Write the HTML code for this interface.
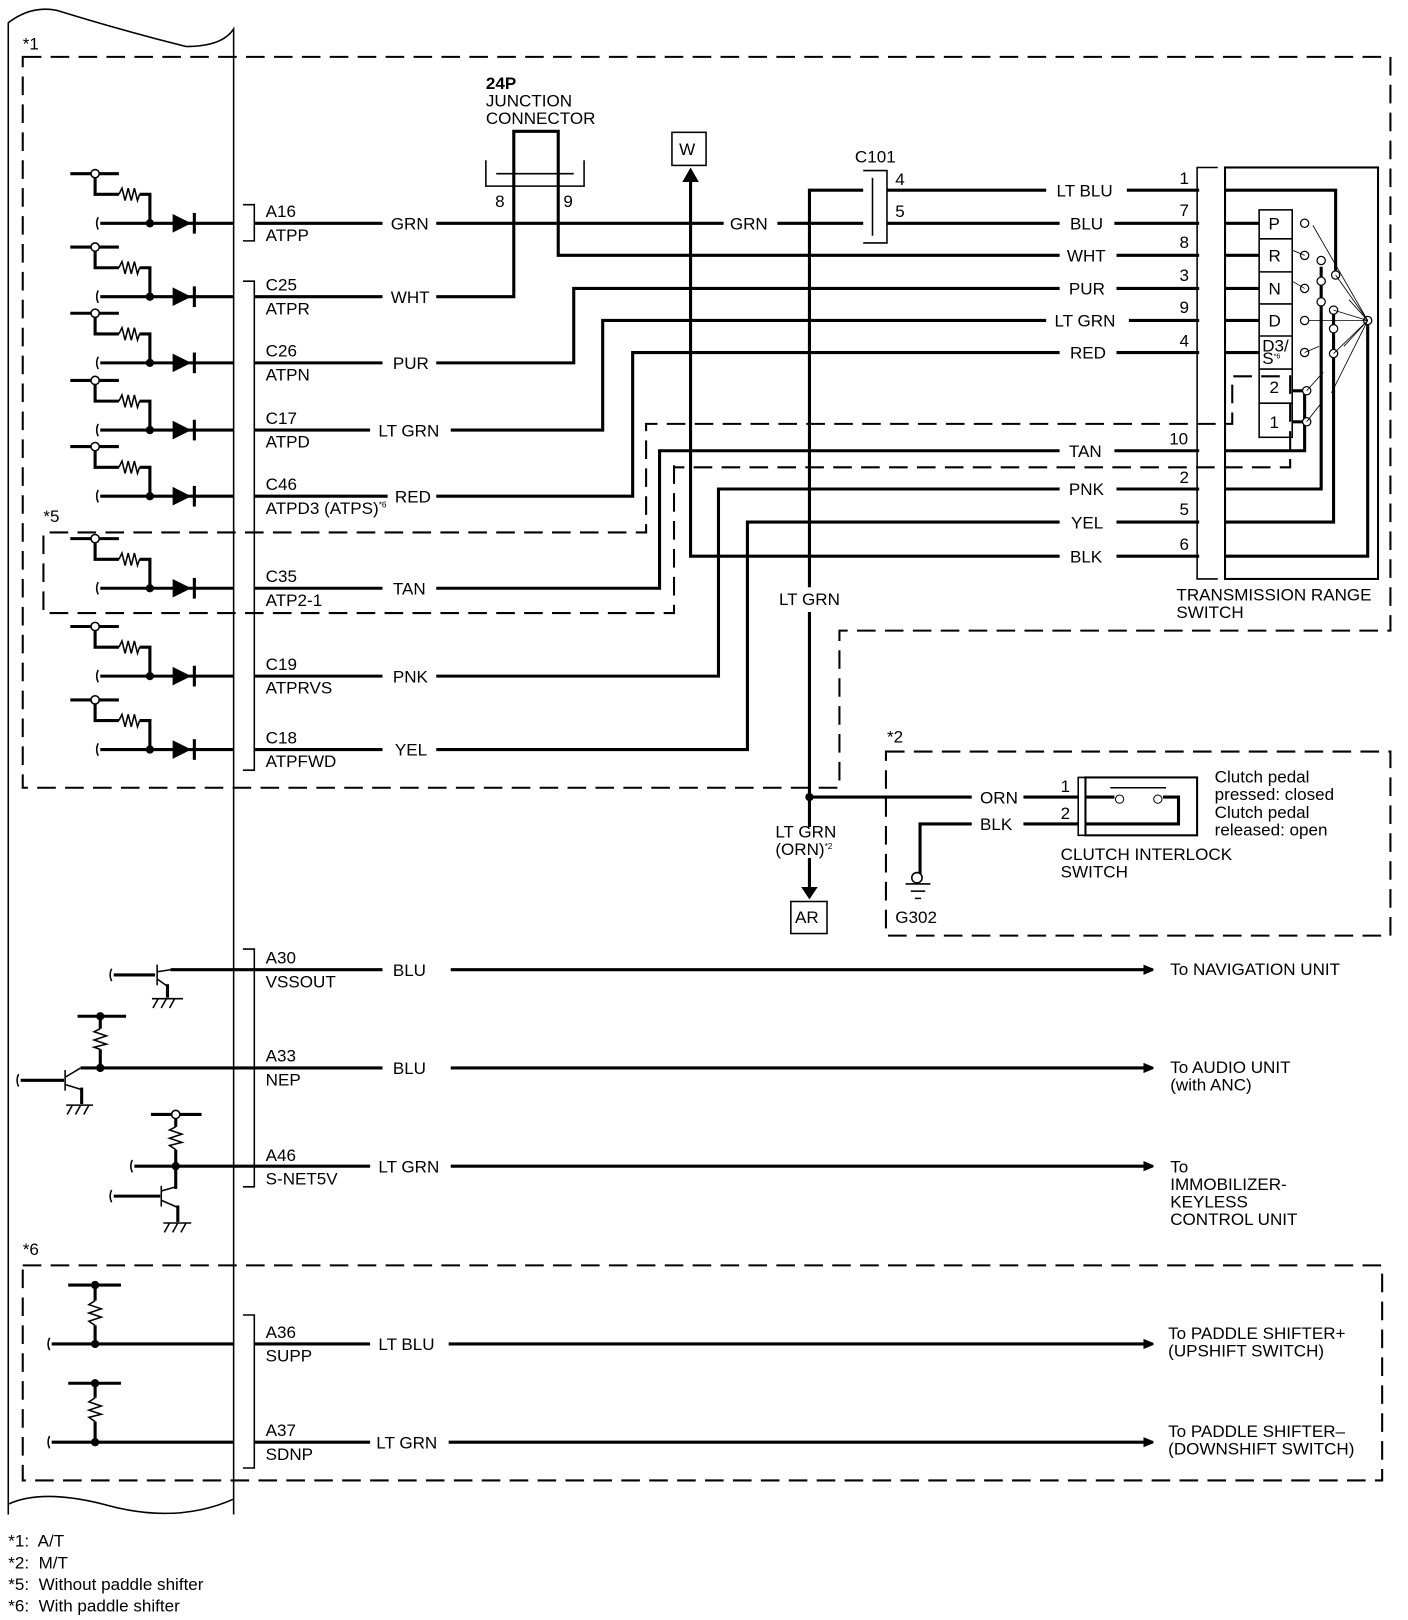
<!DOCTYPE html>
<html><head><meta charset="utf-8"><style>
html,body{margin:0;padding:0;background:#fff}
svg{display:block}
text{font-family:"Liberation Sans",Arial,sans-serif;font-size:16.5px;fill:#000}
.w{stroke:#000;stroke-width:3;fill:none}
.t{stroke:#000;stroke-width:1.5;fill:none}
.d{stroke:#000;stroke-width:2;fill:none;stroke-dasharray:18,9}
</style></head><body>
<svg width="1408" height="1620" viewBox="0 0 1362 1567" preserveAspectRatio="none" xmlns="http://www.w3.org/2000/svg">
<defs>
<g id="sens">
<line class="w" x1="68" y1="-48" x2="115" y2="-48"/>
<circle cx="92" cy="-48" r="4" fill="#fff" stroke="#000" stroke-width="1.5"/>
<polyline class="w" points="92,-44 92,-28 115,-28"/>
<polyline class="t" points="115,-28 118,-34 121,-22 124,-34 127,-22 130,-34 133,-22 135,-28"/>
<polyline class="w" points="135,-28 145,-28 145,0"/>
<path class="t" d="M95,-6 q-3,6 0,12"/>
<line class="w" x1="97" y1="0" x2="226" y2="0"/>
<circle cx="145" cy="0" r="4"/>
<polygon points="167,-9 185,0 167,9"/>
<line class="w" x1="188" y1="-10" x2="188" y2="10"/>
</g>
<marker id="ar" markerWidth="10" markerHeight="10" refX="9" refY="5" orient="auto" markerUnits="userSpaceOnUse"><polygon points="0,0 12,5 0,10"/></marker>
</defs>

<path class="t" d="M8,1465 L8,22 Q30,5 55,10 Q120,30 180,45 Q215,45 226,28 L226,1465"/>
<path class="t" d="M8,1455 Q40,1440 100,1455 Q170,1475 226,1450"/>

<text x="22" y="48">*1</text>
<path class="d" d="M22,55 H1345 V610 H812 V762 H22 Z"/>

<use href="#sens" y="216"/><use href="#sens" y="287"/><use href="#sens" y="351"/>
<use href="#sens" y="416"/><use href="#sens" y="480"/><use href="#sens" y="569"/>
<use href="#sens" y="654"/><use href="#sens" y="725"/>

<text x="42" y="505">*5</text>
<path class="d" d="M652,450 V593 H42 V515 H625 V410 H1192 V364 H1248 V452 H652"/>

<polyline class="t" points="235,198 246,198 246,233 235,233"/>
<polyline class="t" points="235,272 246,272 246,745 235,745"/>
<polyline class="t" points="235,918 246,918 246,1148 235,1148"/>
<polyline class="t" points="235,1272 246,1272 246,1420 235,1420"/>

<g>
<text x="257" y="210">A16</text><text x="257" y="233">ATPP</text>
<text x="257" y="281">C25</text><text x="257" y="304">ATPR</text>
<text x="257" y="345">C26</text><text x="257" y="368">ATPN</text>
<text x="257" y="410">C17</text><text x="257" y="433">ATPD</text>
<text x="257" y="474">C46</text><text x="257" y="497">ATPD3 (ATPS)<tspan font-size="8" dy="-6">*6</tspan></text>
<text x="257" y="563">C35</text><text x="257" y="586">ATP2-1</text>
<text x="257" y="648">C19</text><text x="257" y="671">ATPRVS</text>
<text x="257" y="719">C18</text><text x="257" y="742">ATPFWD</text>
<text x="257" y="932">A30</text><text x="257" y="955">VSSOUT</text>
<text x="257" y="1027">A33</text><text x="257" y="1050">NEP</text>
<text x="257" y="1123">A46</text><text x="257" y="1146">S-NET5V</text>
<text x="257" y="1294">A36</text><text x="257" y="1317">SUPP</text>
<text x="257" y="1389">A37</text><text x="257" y="1412">SDNP</text>
</g>

<g class="w">
<line x1="246" y1="216" x2="370" y2="216"/><line x1="246" y1="287" x2="370" y2="287"/>
<line x1="246" y1="351" x2="370" y2="351"/><line x1="246" y1="416" x2="358" y2="416"/>
<line x1="246" y1="480" x2="375" y2="480"/><line x1="246" y1="569" x2="370" y2="569"/>
<line x1="246" y1="654" x2="370" y2="654"/><line x1="246" y1="725" x2="370" y2="725"/>
</g>
<text x="378" y="222">GRN</text><text x="378" y="293">WHT</text><text x="380" y="357">PUR</text>
<text x="366" y="422">LT GRN</text><text x="382" y="486">RED</text><text x="380" y="575">TAN</text>
<text x="380" y="660">PNK</text><text x="382" y="731">YEL</text>

<g class="w">
<polyline points="422,216 700,216"/><polyline points="752,216 835,216"/>
<polyline points="422,287 497,287 497,127 540,127 540,247 1025,247"/>
<polyline points="422,351 555,351 555,279 1025,279"/>
<polyline points="436,416 583,416 583,310 1012,310"/>
<polyline points="422,480 612,480 612,341 1025,341"/>
<polyline points="422,569 638,569 638,436 1025,436"/>
<polyline points="422,654 695,654 695,473 1025,473"/>
<polyline points="422,725 723,725 723,505 1025,505"/>
<polyline points="1025,538 668,538 668,172"/>
<polyline points="835,184 783,184 783,568"/>
<polyline points="783,592 783,800"/>
<polyline points="783,830 783,858"/>
<polyline points="858,184 1012,184"/><polyline points="858,216 1025,216"/>
</g>
<text x="706" y="222">GRN</text>
<polyline class="t" points="470,155 470,180 565,180 565,155"/>
<line class="t" x1="480" y1="168" x2="555" y2="168"/>
<text x="470" y="86" font-weight="bold">24P</text>
<text x="470" y="103">JUNCTION</text>
<text x="470" y="120">CONNECTOR</text>
<text x="479" y="200">8</text><text x="545" y="200">9</text>
<rect class="t" x="650" y="128" width="33" height="32"/>
<text x="657" y="150">W</text>
<polygon points="660,176 668,162 676,176"/>
<polyline class="t" points="835,165 858,165 858,235 835,235"/>
<line class="t" x1="844" y1="172" x2="844" y2="228"/>
<text x="827" y="157">C101</text>
<text x="866" y="179">4</text><text x="866" y="210">5</text>
<text x="1022" y="190">LT BLU</text><text x="1035" y="222">BLU</text><text x="1032" y="253">WHT</text>
<text x="1034" y="285">PUR</text><text x="1020" y="316">LT GRN</text><text x="1035" y="347">RED</text>
<text x="1034" y="442">TAN</text><text x="1034" y="479">PNK</text><text x="1036" y="511">YEL</text>
<text x="1035" y="544">BLK</text>
<g class="w">
<line x1="1090" y1="184" x2="1160" y2="184"/><line x1="1078" y1="216" x2="1160" y2="216"/>
<line x1="1080" y1="247" x2="1160" y2="247"/><line x1="1080" y1="279" x2="1160" y2="279"/>
<line x1="1092" y1="310" x2="1160" y2="310"/><line x1="1080" y1="341" x2="1160" y2="341"/>
<line x1="1078" y1="436" x2="1160" y2="436"/><line x1="1080" y1="473" x2="1160" y2="473"/>
<line x1="1080" y1="505" x2="1160" y2="505"/><line x1="1080" y1="538" x2="1160" y2="538"/>
</g>
<text x="1141" y="178">1</text><text x="1141" y="209">7</text><text x="1141" y="240">8</text>
<text x="1141" y="272">3</text><text x="1141" y="303">9</text><text x="1141" y="335">4</text>
<text x="1131" y="430">10</text><text x="1141" y="467">2</text><text x="1141" y="498">5</text>
<text x="1141" y="532">6</text>
<text x="783" y="585" text-anchor="middle">LT GRN</text>
<polyline class="t" points="1178,162 1158,162 1158,560 1178,560"/>
<rect x="1185" y="162" width="148" height="398" fill="none" stroke="#000" stroke-width="2"/>
<rect class="t" x="1218" y="203" width="32" height="220"/>
<g class="t"><line x1="1218" y1="231" x2="1250" y2="231"/><line x1="1218" y1="263" x2="1250" y2="263"/>
<line x1="1218" y1="294" x2="1250" y2="294"/><line x1="1218" y1="325" x2="1250" y2="325"/>
<line x1="1218" y1="357" x2="1250" y2="357"/><line x1="1218" y1="390" x2="1250" y2="390"/></g>
<text x="1227" y="222">P</text><text x="1227" y="253">R</text><text x="1227" y="285">N</text>
<text x="1227" y="316">D</text><text x="1221" y="340" font-size="12">D3/</text><text x="1221" y="352" font-size="12">S<tspan font-size="7" dy="-5">*6</tspan></text>
<text x="1228" y="380">2</text><text x="1228" y="414">1</text>
<g class="w">
<line x1="1185" y1="216" x2="1218" y2="216"/><line x1="1185" y1="247" x2="1218" y2="247"/>
<line x1="1185" y1="279" x2="1218" y2="279"/><line x1="1185" y1="310" x2="1218" y2="310"/>
<line x1="1185" y1="341" x2="1218" y2="341"/>
<polyline points="1185,184 1292,184 1292,262"/>
<polyline points="1185,436 1262,436 1262,378"/>
<line x1="1250" y1="378" x2="1262" y2="378"/><line x1="1250" y1="408" x2="1262" y2="408"/>
<polyline points="1185,473 1278,473 1278,258"/>
<polyline points="1185,505 1290,505 1290,300"/>
<polyline points="1185,538 1323,538 1323,312"/>
</g>
<g fill="#fff" stroke="#000" stroke-width="1.2">
<circle cx="1262" cy="216" r="4"/><circle cx="1262" cy="247" r="4"/><circle cx="1262" cy="279" r="4"/>
<circle cx="1262" cy="310" r="4"/><circle cx="1262" cy="341" r="4"/><circle cx="1264" cy="378" r="4"/><circle cx="1264" cy="408" r="4"/>
<circle cx="1278" cy="252" r="4"/><circle cx="1278" cy="272" r="4"/><circle cx="1278" cy="292" r="4"/>
<circle cx="1292" cy="266" r="4"/><circle cx="1290" cy="300" r="4"/><circle cx="1290" cy="318" r="4"/><circle cx="1290" cy="342" r="4"/>
<circle cx="1323" cy="310" r="4"/>
</g>
<g stroke="#000" stroke-width="0.8">
<line x1="1323" y1="310" x2="1270" y2="218"/><line x1="1323" y1="310" x2="1292" y2="266"/>
<line x1="1323" y1="310" x2="1290" y2="300"/><line x1="1323" y1="310" x2="1266" y2="310"/>
<line x1="1323" y1="310" x2="1290" y2="342"/><line x1="1323" y1="310" x2="1300" y2="335"/>
<line x1="1323" y1="310" x2="1305" y2="290"/><line x1="1323" y1="310" x2="1288" y2="380"/>
<line x1="1264" y1="378" x2="1280" y2="360"/><line x1="1264" y1="408" x2="1278" y2="390"/>
<line x1="1262" y1="341" x2="1276" y2="335"/><line x1="1262" y1="279" x2="1250" y2="272"/>
<line x1="1262" y1="247" x2="1250" y2="242"/>
</g>
<text x="1138" y="581">TRANSMISSION RANGE</text>
<text x="1138" y="598">SWITCH</text>

<polygon points="775,858 791,858 783,870"/>
<rect class="t" x="765" y="872" width="35" height="31"/>
<text x="769" y="893">AR</text>
<text x="750" y="810">LT GRN</text>
<text x="750" y="827">(ORN)<tspan font-size="8" dy="-6">*2</tspan></text>

<text x="858" y="718">*2</text>
<path class="d" d="M857,727 H1345 V905 H857 Z"/>
<circle cx="783" cy="771" r="4"/>
<line class="w" x1="783" y1="771" x2="940" y2="771"/>
<line class="w" x1="990" y1="771" x2="1043" y2="771"/>
<polyline class="w" points="940,797 890,797 890,845"/>
<line class="w" x1="990" y1="797" x2="1043" y2="797"/>
<text x="948" y="777">ORN</text><text x="948" y="803">BLK</text>
<text x="1026" y="766">1</text><text x="1026" y="792">2</text>
<polyline class="t" points="1050,752 1043,752 1043,808 1050,808"/>
<rect x="1050" y="752" width="108" height="56" fill="none" stroke="#000" stroke-width="2"/>
<polyline class="w" points="1050,771 1078,771"/><polyline class="w" points="1125,771 1140,771 1140,797 1050,797"/>
<line class="t" x1="1074" y1="762" x2="1128" y2="762"/>
<circle cx="1083" cy="773" r="4" fill="#fff" stroke="#000"/><circle cx="1120" cy="773" r="4" fill="#fff" stroke="#000"/>
<text x="1175" y="757">Clutch pedal</text><text x="1175" y="774">pressed: closed</text>
<text x="1175" y="791">Clutch pedal</text><text x="1175" y="808">released: open</text>
<text x="1026" y="832">CLUTCH INTERLOCK</text><text x="1026" y="849">SWITCH</text>
<circle cx="887" cy="849" r="5" fill="#fff" stroke="#000" stroke-width="1.5"/>
<line class="t" x1="876" y1="855" x2="900" y2="855"/><line class="t" x1="881" y1="862" x2="895" y2="862"/><line class="t" x1="885" y1="869" x2="891" y2="869"/>
<text x="866" y="893">G302</text>

<g class="w">
<polyline points="110,943 150,943"/><line x1="165" y1="938" x2="246" y2="938"/>
<line x1="20" y1="1045" x2="62" y2="1045"/><line x1="78" y1="1033" x2="246" y2="1033"/>
<line x1="75" y1="983" x2="122" y2="983"/><line x1="97" y1="983" x2="97" y2="995"/><line x1="97" y1="1015" x2="97" y2="1033"/>
<line x1="146" y1="1078" x2="195" y2="1078"/><line x1="170" y1="1082" x2="170" y2="1090"/><line x1="170" y1="1112" x2="170" y2="1150"/>
<line x1="130" y1="1128" x2="246" y2="1128"/>
<line x1="110" y1="1157" x2="155" y2="1157"/>
<line x1="50" y1="1300" x2="226" y2="1300"/><line x1="66" y1="1243" x2="117" y2="1243"/><line x1="92" y1="1243" x2="92" y2="1258"/><line x1="92" y1="1282" x2="92" y2="1300"/>
<line x1="50" y1="1395" x2="226" y2="1395"/><line x1="66" y1="1338" x2="117" y2="1338"/><line x1="92" y1="1338" x2="92" y2="1352"/><line x1="92" y1="1375" x2="92" y2="1395"/>
<line x1="162" y1="952" x2="162" y2="965"/><line x1="79" y1="1052" x2="79" y2="1068"/><line x1="172" y1="1166" x2="172" y2="1182"/>
</g>
<circle cx="97" cy="983" r="4"/><circle cx="97" cy="1033" r="4"/><circle cx="170" cy="1078" r="4" fill="#fff" stroke="#000" stroke-width="1.5"/><circle cx="170" cy="1128" r="4"/>
<circle cx="92" cy="1243" r="4"/><circle cx="92" cy="1300" r="4"/><circle cx="92" cy="1338" r="4"/><circle cx="92" cy="1395" r="4"/>
<g class="t">
<line x1="152" y1="933" x2="152" y2="953"/><line x1="152" y1="940" x2="165" y2="938"/><line x1="152" y1="947" x2="162" y2="954"/>
<line x1="63" y1="1035" x2="63" y2="1055"/><line x1="63" y1="1042" x2="78" y2="1033"/><line x1="63" y1="1049" x2="79" y2="1054"/>
<line x1="156" y1="1147" x2="156" y2="1167"/><line x1="156" y1="1152" x2="170" y2="1148"/><line x1="156" y1="1161" x2="172" y2="1168"/>
<polyline points="97,995 91,998 103,1002 91,1006 103,1010 91,1013 97,1015"/>
<polyline points="170,1090 164,1093 176,1097 164,1101 176,1105 164,1108 170,1112"/>
<polyline points="92,1258 86,1262 98,1266 86,1270 98,1274 86,1278 92,1282"/>
<polyline points="92,1352 86,1356 98,1360 86,1364 98,1368 86,1371 92,1375"/>
<line x1="147" y1="966" x2="177" y2="966"/><line x1="64" y1="1069" x2="90" y2="1069"/><line x1="158" y1="1183" x2="185" y2="1183"/>
<path d="M153,966 l-5,9 M161,966 l-5,9 M169,966 l-5,9 M70,1069 l-5,9 M78,1069 l-5,9 M86,1069 l-5,9 M164,1183 l-5,9 M172,1183 l-5,9 M180,1183 l-5,9"/>
<path d="M108,937 q-3,6 0,12 M18,1039 q-3,6 0,12 M128,1122 q-3,6 0,12 M108,1151 q-3,6 0,12 M48,1294 q-3,6 0,12 M48,1389 q-3,6 0,12"/>
</g>

<g class="w">
<line x1="246" y1="938" x2="370" y2="938"/><line x1="436" y1="938" x2="1115" y2="938" marker-end="url(#ar)"/>
<line x1="246" y1="1033" x2="370" y2="1033"/><line x1="436" y1="1033" x2="1115" y2="1033" marker-end="url(#ar)"/>
<line x1="246" y1="1128" x2="358" y2="1128"/><line x1="436" y1="1128" x2="1115" y2="1128" marker-end="url(#ar)"/>
<line x1="246" y1="1300" x2="358" y2="1300"/><line x1="434" y1="1300" x2="1115" y2="1300" marker-end="url(#ar)"/>
<line x1="246" y1="1395" x2="358" y2="1395"/><line x1="434" y1="1395" x2="1115" y2="1395" marker-end="url(#ar)"/>
</g>
<text x="380" y="944">BLU</text><text x="380" y="1039">BLU</text><text x="366" y="1134">LT GRN</text>
<text x="366" y="1306">LT BLU</text><text x="364" y="1401">LT GRN</text>
<text x="1132" y="943">To NAVIGATION UNIT</text>
<text x="1132" y="1038">To AUDIO UNIT</text><text x="1132" y="1055">(with ANC)</text>
<text x="1132" y="1134">To</text><text x="1132" y="1151">IMMOBILIZER-</text><text x="1132" y="1168">KEYLESS</text><text x="1132" y="1185">CONTROL UNIT</text>
<text x="1130" y="1295">To PADDLE SHIFTER+</text><text x="1130" y="1312">(UPSHIFT SWITCH)</text>
<text x="1130" y="1390">To PADDLE SHIFTER–</text><text x="1130" y="1407">(DOWNSHIFT SWITCH)</text>

<text x="22" y="1214">*6</text>
<path class="d" d="M22,1224 H1337 V1432 H22 Z"/>

<text x="8" y="1496" font-size="20" xml:space="preserve">*1:  A/T</text>
<text x="8" y="1517" font-size="20" xml:space="preserve">*2:  M/T</text>
<text x="8" y="1538" font-size="20" xml:space="preserve">*5:  Without paddle shifter</text>
<text x="8" y="1559" font-size="20" xml:space="preserve">*6:  With paddle shifter</text>
</svg>
</body></html>
